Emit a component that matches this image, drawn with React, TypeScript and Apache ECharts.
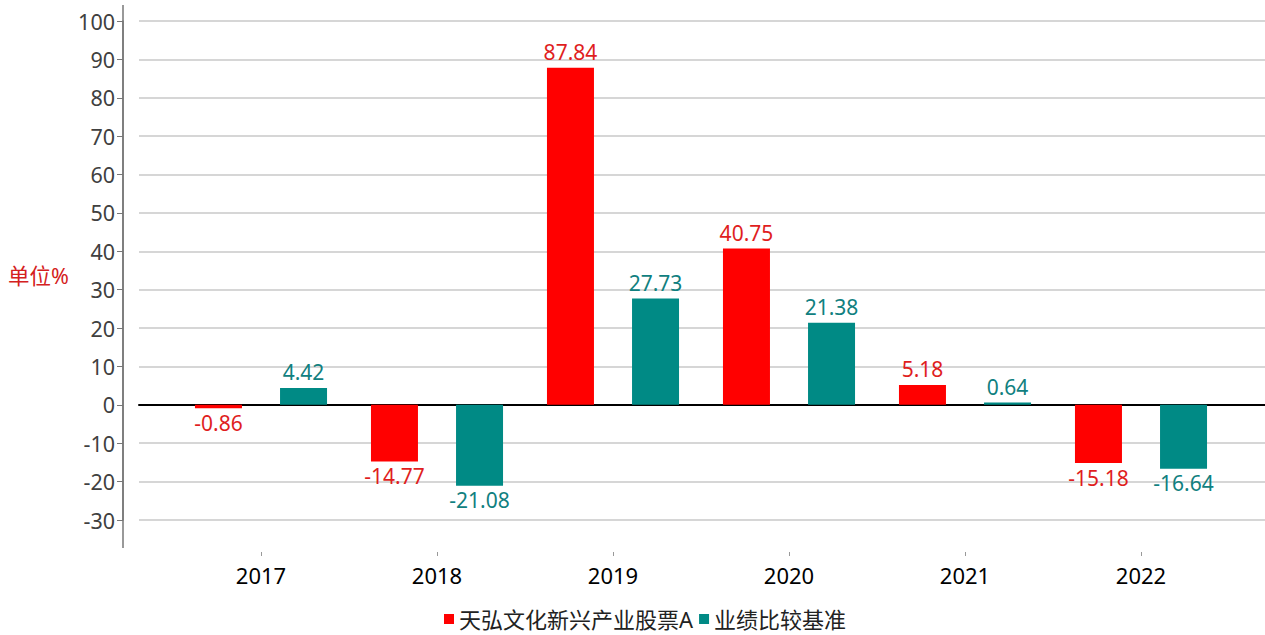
import React, { useEffect, useRef } from "react";
import * as echarts from "echarts";

const categories = ["2017", "2018", "2019", "2020", "2021", "2022"];
const fundValues = [-0.86, -14.77, 87.84, 40.75, 5.18, -15.18];
const benchValues = [4.42, -21.08, 27.73, 21.38, 0.64, -16.64];
const seriesNames = ["天弘文化新兴产业股票A", "业绩比较基准"];
const unitLabel = "单位%";

const FONT = "'Noto Sans', 'Noto Sans CJK SC', sans-serif";
const RED = "#ff0000";
const TEAL = "#008a85";

export default function App() {
  const ref = useRef<HTMLDivElement>(null);
  useEffect(() => {
    if (!ref.current) return;
    const chart = echarts.init(ref.current, null, { renderer: "svg" });
    const mk = (vals: number[], color: string) =>
      vals.map((v) => ({
        value: v,
        label: {
          show: true,
          position: v >= 0 ? "top" : "bottom",
          distance: v >= 0 ? 5 : 4,
          color,
          fontSize: 21,
          fontFamily: FONT,
          formatter: (p: any) => p.value.toFixed(2),
        },
      }));
    chart.setOption({
      animation: false,
      grid: [
        { left: 139, right: 0, top: 21, height: 499 },
        { left: 173, right: 36, top: 21, height: 499 },
      ],
      xAxis: [
        {
          gridIndex: 0,
          type: "category",
          data: categories,
          axisLine: { show: true, onZero: true, lineStyle: { color: "#000", width: 2 } },
          axisTick: { show: false },
          axisLabel: { show: false },
          splitLine: { show: false },
        },
        {
          gridIndex: 1,
          type: "category",
          data: categories,
          position: "bottom",
          offset: 32,
          axisLine: { show: false, onZero: false },
          axisTick: { show: true, alignWithLabel: true, length: 4, lineStyle: { color: "#999" } },
          axisLabel: { color: "#000", fontSize: 22, fontFamily: FONT, margin: 12 },
        },
      ],
      yAxis: [
        {
          gridIndex: 0,
          type: "value",
          min: -30,
          max: 100,
          interval: 10,
          offset: 16,
          axisLine: { show: true, lineStyle: { color: "#777", width: 1.5 } },
          axisTick: { show: true, length: 6, lineStyle: { color: "#777" } },
          axisLabel: { color: "#404040", fontSize: 21.5, fontFamily: FONT, margin: 8 },
          splitLine: { show: true, lineStyle: { color: "#c8c8c8", width: 1.5 } },
        },
        {
          gridIndex: 1,
          type: "value",
          min: -30,
          max: 100,
          interval: 10,
          show: false,
          splitLine: { show: false },
        },
      ],
      legend: {
        bottom: 0,
        left: 439,
        icon: "rect",
        itemWidth: 10,
        itemHeight: 10,
        itemGap: 6,
        textStyle: { fontSize: 22, color: "#222", fontFamily: FONT },
        data: seriesNames,
      },
      graphic: [
        {
          type: "line",
          shape: { x1: 123, y1: 5, x2: 123, y2: 548 },
          style: { stroke: "#777", lineWidth: 1.5 },
        },
        {
          type: "text",
          left: 8,
          top: 265,
          style: { text: unitLabel, fill: "#d42020", fontSize: 21.5, fontFamily: FONT },
        },
      ],
      series: [
        {
          name: seriesNames[0],
          type: "bar",
          xAxisIndex: 1,
          yAxisIndex: 1,
          barWidth: 47,
          barGap: "81%",
          itemStyle: { color: RED },
          data: mk(fundValues, "#e01e1e"),
        },
        {
          name: seriesNames[1],
          type: "bar",
          xAxisIndex: 1,
          yAxisIndex: 1,
          barWidth: 47,
          barGap: "81%",
          itemStyle: { color: TEAL },
          data: mk(benchValues, "#108080"),
        },
      ],
    });
    return () => chart.dispose();
  }, []);
  return (
    <div
      ref={ref}
      style={{ position: "fixed", left: 0, top: 0, width: 1265, height: 635, background: "#fff" }}
    />
  );
}
